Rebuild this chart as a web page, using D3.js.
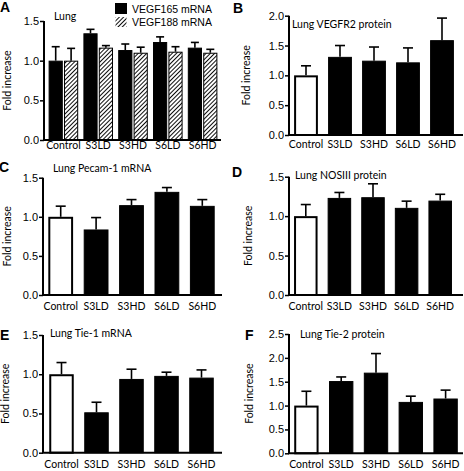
<!DOCTYPE html>
<html><head><meta charset="utf-8">
<script src="https://cdn.jsdelivr.net/npm/d3@7"></script>
<style>
html,body{margin:0;padding:0;background:#fff;}
svg{display:block;}
</style></head>
<body>
<svg id="chart" width="464" height="471"></svg>
<script>
// ---------- data ----------
const categories = ["Control", "S3LD", "S3HD", "S6LD", "S6HD"];
const seriesNames = ["VEGF165 mRNA", "VEGF188 mRNA"];
const vegf165 = [1.0, 1.345, 1.134, 1.235, 1.164];
const vegf165Err = [0.176, 0.05, 0.076, 0.065, 0.066];
const vegf188 = [1.0, 1.164, 1.10, 1.113, 1.10];
const vegf188Err = [0.155, 0.026, 0.07, 0.063, 0.043];
const vegfr2 = [1.0, 1.31, 1.246, 1.218, 1.59];
const vegfr2Err = [0.16, 0.19, 0.229, 0.242, 0.37];
const pecam1 = [1.0, 0.838, 1.149, 1.319, 1.14];
const pecam1Err = [0.136, 0.152, 0.071, 0.055, 0.08];
const nosiii = [1.0, 1.231, 1.24, 1.105, 1.197];
const nosiiiErr = [0.147, 0.069, 0.17, 0.085, 0.08];
const tie1 = [1.0, 0.515, 0.94, 0.979, 0.957];
const tie1Err = [0.149, 0.128, 0.124, 0.047, 0.098];
const tie2 = [1.0, 1.514, 1.69, 1.077, 1.148];
const tie2Err = [0.30, 0.086, 0.40, 0.12, 0.176];
const ticks15 = [0, 0.5, 1.0, 1.5];
const ticks20 = [0, 0.5, 1.0, 1.5, 2.0];
const ticks25 = [0, 0.5, 1.0, 1.5, 2.0, 2.5];
const yTitle = "Fold increase";

// ---------- layout ----------
const svg = d3.select("#chart");
const defs = svg.append("defs");
const pat = defs.append("pattern").attr("id", "hatch").attr("patternUnits", "userSpaceOnUse")
  .attr("width", 3).attr("height", 3).attr("patternTransform", "rotate(45)");
pat.append("rect").attr("width", 3).attr("height", 3).attr("fill", "#fff");
pat.append("line").attr("x1", 0).attr("y1", 0).attr("x2", 0).attr("y2", 3)
  .attr("stroke", "#000").attr("stroke-width", 1.9);

const tickFont = "'Liberation Sans', Arial, sans-serif";
const labelFont = "Lato, 'Open Sans', sans-serif";

const panels = [
  {letter: "A", lx: 0, ly: 12, title: "Lung", tx: 54, ty: 20, series: [[vegf165, vegf165Err], [vegf188, vegf188Err]],
   ymax: 1.5, ticks: ticks15, axX: 44, axEnd: 221, y0: 140, yTop: 21, r0: 46, r1: 220, pi: 0.15, labOff: 11, cap: 8, ytx: 11},
  {letter: "B", lx: 233, ly: 13, title: "Lung VEGFR2 protein", tx: 292, ty: 28, series: [[vegfr2, vegfr2Err]],
   ymax: 2.0, ticks: ticks20, axX: 289, axEnd: 463, y0: 135, yTop: 15.7, r0: 289, r1: 459, pi: 0.3, labOff: 15.5, cap: 10, ytx: 250},
  {letter: "C", lx: -1, ly: 172, title: "Lung Pecam-1 mRNA", tx: 53, ty: 172, series: [[pecam1, pecam1Err]],
   ymax: 1.5, ticks: ticks15, axX: 43, axEnd: 222, y0: 295, yTop: 177.7, r0: 43, r1: 220, pi: 0.3, labOff: 17.5, cap: 10, ytx: 11},
  {letter: "D", lx: 232, ly: 177, title: "Lung NOSIII protein", tx: 295, ty: 179, series: [[nosiii, nosiiiErr]],
   ymax: 1.5, ticks: ticks15, axX: 289, axEnd: 463, y0: 295, yTop: 176.7, r0: 289, r1: 457, pi: 0.3, labOff: 17.5, cap: 10, ytx: 252},
  {letter: "E", lx: 0, ly: 340, title: "Lung Tie-1 mRNA", tx: 50, ty: 337, series: [[tie1, tie1Err]],
   ymax: 1.5, ticks: ticks15, axX: 43, axEnd: 222, y0: 452.7, yTop: 335, r0: 44, r1: 219, pi: 0.3, labOff: 17.5, cap: 10, ytx: 9},
  {letter: "F", lx: 245, ly: 340, title: "Lung Tie-2 protein", tx: 300, ty: 338, series: [[tie2, tie2Err]],
   ymax: 2.5, ticks: ticks25, axX: 289, axEnd: 463, y0: 453.3, yTop: 334, r0: 289, r1: 463, pi: 0.3, labOff: 16.5, cap: 10, ytx: 253}
];

panels.forEach(p => {
  const g = svg.append("g");
  const y = d3.scaleLinear().domain([0, p.ymax]).range([p.y0, p.yTop]);
  const x = d3.scaleBand().domain(categories).range([p.r0, p.r1]).paddingInner(p.pi).paddingOuter(p.pi / 2);
  const nS = p.series.length;
  const xs = d3.scaleBand().domain(d3.range(nS)).range([0, x.bandwidth()]).paddingInner(nS > 1 ? 0.08 : 0);

  // bars
  p.series.forEach(([vals, errs], si) => {
    categories.forEach((c, i) => {
      const bx = x(c) + xs(si);
      const bw = xs.bandwidth();
      const isControl = (nS === 1 && i === 0);
      const fill = si === 1 ? "url(#hatch)" : (isControl ? "#fff" : "#000");
      const sw = isControl ? 2 : 1;
      const top = y(vals[i]);
      const et = y(vals[i] + errs[i]);
      const cx = bx + bw / 2;
      g.append("line").attr("x1", cx).attr("x2", cx).attr("y1", top).attr("y2", et)
        .attr("stroke", "#000").attr("stroke-width", 1.6);
      g.append("line").attr("x1", cx - p.cap / 2).attr("x2", cx + p.cap / 2).attr("y1", et).attr("y2", et)
        .attr("stroke", "#000").attr("stroke-width", 1.6);
      g.append("rect").attr("x", bx + sw / 2).attr("y", top + sw / 2)
        .attr("width", bw - sw).attr("height", p.y0 - top - sw / 2)
        .attr("fill", fill).attr("stroke", "#000").attr("stroke-width", sw);
    });
  });

  // y axis
  const yAxis = d3.axisLeft(y).tickValues(p.ticks).tickFormat(d3.format(".1f")).tickSize(4).tickPadding(1);
  const ya = g.append("g").attr("transform", `translate(${p.axX},0)`).call(yAxis);
  ya.select(".domain").attr("d", `M0,${p.yTop}V${p.y0}`).attr("stroke-width", 2);
  ya.selectAll(".tick line").attr("stroke-width", 1.5);
  ya.selectAll(".tick text").attr("font-family", tickFont).attr("font-size", 11).attr("fill", "#000");

  // x axis line
  g.append("line").attr("x1", p.axX - 1).attr("x2", p.axEnd).attr("y1", p.y0).attr("y2", p.y0)
    .attr("stroke", "#000").attr("stroke-width", 2);
  // x labels
  const xAxis = d3.axisBottom(x).tickSize(0).tickPadding(0);
  const xa = g.append("g").attr("transform", `translate(0,${p.y0 + p.labOff - 9.5})`).call(xAxis);
  xa.select(".domain").remove();
  xa.selectAll(".tick text").attr("font-family", labelFont).attr("font-size", 10.5).attr("fill", "#000");

  // y title
  g.append("text").attr("transform", `translate(${p.ytx},${(p.y0 + p.yTop) / 2}) rotate(-90)`)
    .attr("text-anchor", "middle").attr("font-family", labelFont).attr("font-size", 10.5).text(yTitle);

  // panel letter
  g.append("text").attr("x", p.lx).attr("y", p.ly).attr("font-family", tickFont)
    .attr("font-weight", "bold").attr("font-size", 14).text(p.letter);
  // panel title
  g.append("text").attr("x", p.tx).attr("y", p.ty).attr("font-family", labelFont)
    .attr("font-size", 10.5).text(p.title);
});

// legend for panel A
const lg = svg.append("g");
seriesNames.forEach((n, i) => {
  lg.append("rect").attr("x", 115.5).attr("y", 3.5 + i * 13.5).attr("width", 11).attr("height", 10)
    .attr("fill", i === 0 ? "#000" : "url(#hatch)").attr("stroke", i === 0 ? "#000" : "none");
  lg.append("text").attr("x", 132).attr("y", 12.5 + i * 13.5).attr("font-family", tickFont)
    .attr("font-size", 10.5).text(n);
});
</script>
</body></html>
